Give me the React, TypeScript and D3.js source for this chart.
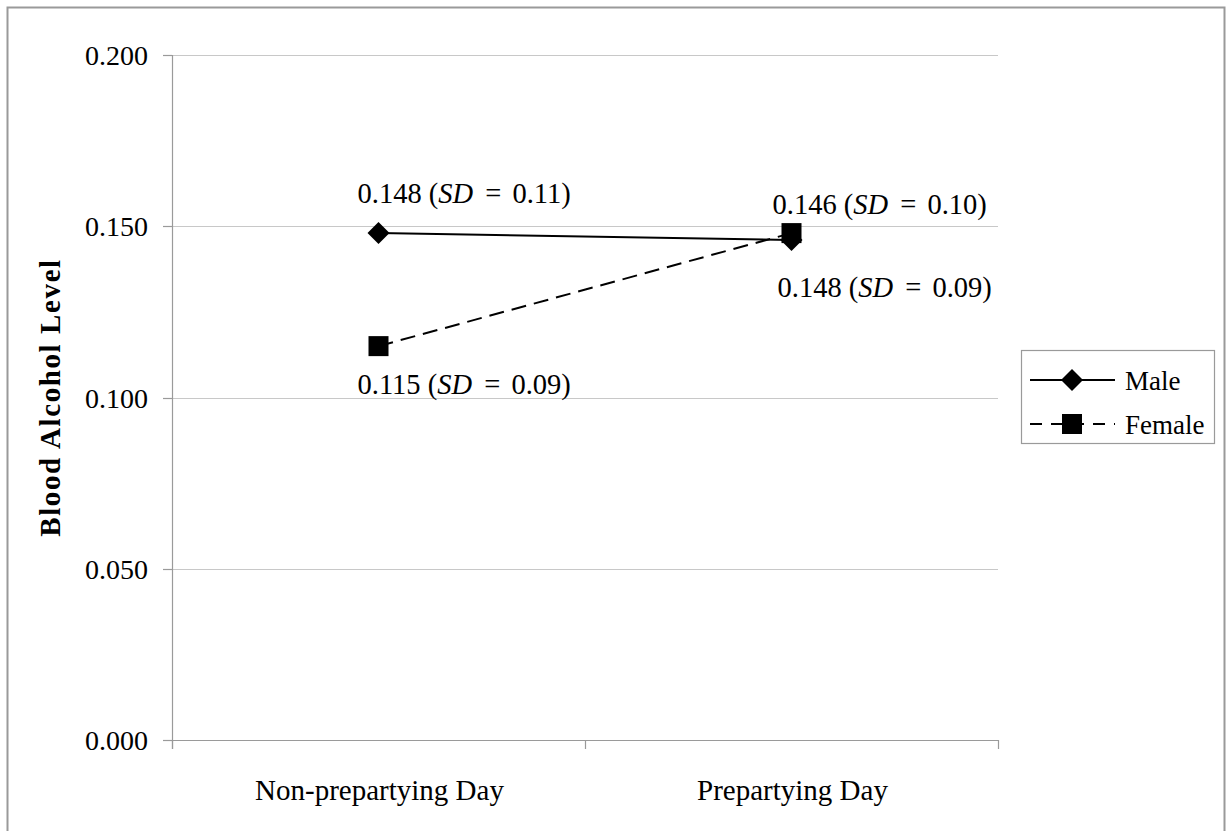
import React from "react";
import * as d3 from "d3";

const categories = ["Non-prepartying Day", "Prepartying Day"];
const maleValues = [0.148, 0.146];
const femaleValues = [0.115, 0.148];
const maleLabels = ["0.148", "0.146"];
const maleSD = ["0.11", "0.10"];
const femaleLabels = ["0.115", "0.148"];
const femaleSD = ["0.09", "0.09"];
const yTicks = [0, 0.05, 0.1, 0.15, 0.2];

const W = 1230;
const H = 831;
const M = { left: 172, top: 55, right: 998, bottom: 740 };
const FONT = "'Liberation Serif', 'Times New Roman', serif";

export default function App() {
  const x = d3.scaleBand<string>().domain(categories).range([M.left, M.right]);
  const y = d3.scaleLinear().domain([0, 0.2]).range([M.bottom, M.top]);
  const cx = (c: string) => (x(c) as number) + x.bandwidth() / 2;
  const line = d3
    .line<number>()
    .x((_, i) => cx(categories[i]))
    .y((v) => y(v));

  const diamond = (px: number, py: number, r = 11) =>
    `M${px},${py - r}L${px + r},${py}L${px},${py + r}L${px - r},${py}Z`;

  const label = (val: string, sd: string, px: number, py: number) => (
    <text x={px} y={py} fontSize={28.5} fontFamily={FONT} fill="#000">
      <tspan>{val} (</tspan>
      <tspan fontStyle="italic">SD</tspan>
      <tspan dx={5}> =</tspan>
      <tspan dx={4}> {sd})</tspan>
    </text>
  );

  const bandEdges = [M.left, ...categories.map((c) => (x(c) as number) + x.bandwidth())];

  return (
    <svg
      width={W}
      height={H}
      style={{ position: "absolute", left: 0, top: 0, background: "#fff" }}
    >
      <rect x={0} y={0} width={W} height={H} fill="#fff" />
      <path d={`M7.5,${H}V7.5H1224.5V${H}`} fill="none" stroke="#9a9a9a" strokeWidth={2} />

      {yTicks.map((t) => (
        <line
          key={"g" + t}
          x1={M.left}
          x2={M.right}
          y1={Math.round(y(t)) + 0.5}
          y2={Math.round(y(t)) + 0.5}
          stroke={t === 0 ? "#9a9a9a" : "#c8c8c8"}
          strokeWidth={1.2}
        />
      ))}
      <line x1={M.left + 0.5} x2={M.left + 0.5} y1={M.top} y2={M.bottom + 9} stroke="#9a9a9a" strokeWidth={1.2} />
      {yTicks.map((t) => (
        <g key={"t" + t}>
          <line
            x1={M.left - 9}
            x2={M.left}
            y1={Math.round(y(t)) + 0.5}
            y2={Math.round(y(t)) + 0.5}
            stroke="#9a9a9a"
            strokeWidth={1.2}
          />
          <text
            x={148}
            y={y(t) + 10}
            textAnchor="end"
            fontSize={28}
            fontFamily={FONT}
            fill="#000"
          >
            {d3.format(".3f")(t)}
          </text>
        </g>
      ))}
      {bandEdges.map((e, i) => (
        <line
          key={"xt" + i}
          x1={e + 0.5}
          x2={e + 0.5}
          y1={M.bottom}
          y2={M.bottom + 9}
          stroke="#9a9a9a"
          strokeWidth={1.2}
        />
      ))}
      {categories.map((c) => (
        <text
          key={c}
          x={cx(c) + 1}
          y={800}
          textAnchor="middle"
          fontSize={29}
          fontFamily={FONT}
          fill="#000"
        >
          {c}
        </text>
      ))}

      <text
        transform={`translate(60,${(M.top + M.bottom) / 2}) rotate(-90)`}
        textAnchor="middle"
        fontSize={29}
        fontWeight="bold"
        letterSpacing={1.6}
        fontFamily={FONT}
        fill="#000"
      >
        Blood Alcohol Level
      </text>

      <path d={line(maleValues) || ""} fill="none" stroke="#000" strokeWidth={2} />
      <path
        d={line(femaleValues) || ""}
        fill="none"
        stroke="#000"
        strokeWidth={2}
        strokeDasharray="15,8"
      />
      {maleValues.map((v, i) => (
        <path key={"m" + i} d={diamond(cx(categories[i]), y(v))} fill="#000" />
      ))}
      {femaleValues.map((v, i) => (
        <rect
          key={"f" + i}
          x={cx(categories[i]) - 10}
          y={y(v) - 10}
          width={20}
          height={20}
          fill="#000"
        />
      ))}

      {label(maleLabels[0], maleSD[0], cx(categories[0]) - 21, y(maleValues[0]) - 30)}
      {label(femaleLabels[0], femaleSD[0], cx(categories[0]) - 21, y(femaleValues[0]) + 48)}
      {label(maleLabels[1], maleSD[1], cx(categories[1]) - 19, y(maleValues[1]) - 26)}
      {label(femaleLabels[1], femaleSD[1], cx(categories[1]) - 14, y(femaleValues[1]) + 64)}

      <rect x={1021.5} y={350.5} width={193} height={93} fill="#fff" stroke="#9a9a9a" strokeWidth={1.2} />
      <line x1={1030} x2={1115} y1={380} y2={380} stroke="#000" strokeWidth={2} />
      <path d={diamond(1072, 380, 11)} fill="#000" />
      <text x={1125} y={390} fontSize={27} fontFamily={FONT} fill="#000">
        Male
      </text>
      <line x1={1030} x2={1115} y1={424} y2={424} stroke="#000" strokeWidth={2} strokeDasharray="12,9" />
      <rect x={1062} y={414} width={20} height={20} fill="#000" />
      <text x={1125} y={434} fontSize={27} fontFamily={FONT} fill="#000">
        Female
      </text>
    </svg>
  );
}
